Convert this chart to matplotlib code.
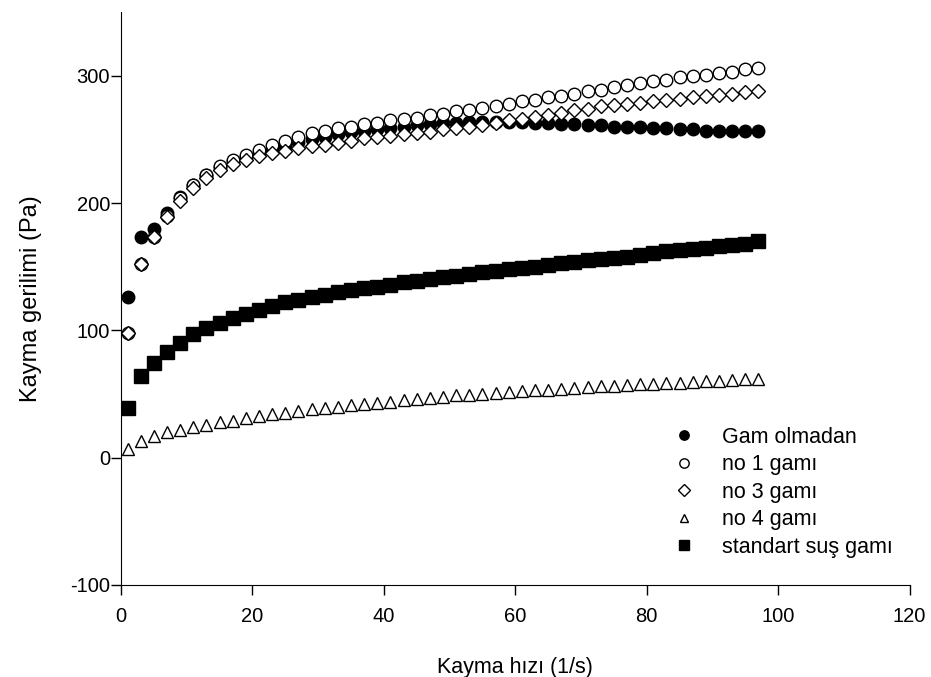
import matplotlib.pyplot as plt

plt.rcParams['font.family'] = ['Liberation Sans', 'DejaVu Sans']
plt.rcParams['axes.unicode_minus'] = False

# shear rate (1/s)
shear_rate = [1, 3, 5, 7, 9, 11, 13, 15, 17, 19, 21, 23, 25, 27, 29, 31, 33,
              35, 37, 39, 41, 43, 45, 47, 49, 51, 53, 55, 57, 59, 61, 63, 65,
              67, 69, 71, 73, 75, 77, 79, 81, 83, 85, 87, 89, 91, 93, 95, 97]

# shear stress (Pa)
gam_olmadan = [126, 173, 180, 192, 205, 214, 222, 228, 233, 236, 239, 242, 245,
               248, 250, 252, 254, 256, 257, 258, 259, 260, 261, 262, 263, 263,
               264, 264, 264, 264, 264, 263, 263, 262, 262, 261, 261, 260, 260,
               260, 259, 259, 258, 258, 257, 257, 257, 257, 257]
no1 = [98, 152, 173, 190, 204, 214, 222, 229, 234, 238, 242, 246, 249, 252,
       255, 257, 259, 260, 262, 263, 265, 266, 267, 269, 270, 272, 273, 275,
       276, 278, 280, 281, 283, 284, 286, 288, 289, 291, 293, 294, 296, 297,
       299, 300, 301, 302, 303, 305, 306]
no3 = [98, 152, 173, 189, 202, 212, 220, 226, 231, 234, 237, 239, 241, 243,
       245, 246, 247, 249, 251, 252, 253, 254, 255, 256, 258, 259, 260, 261,
       263, 265, 266, 268, 269, 271, 273, 274, 276, 277, 278, 279, 280, 281,
       282, 283, 284, 285, 286, 287, 288]
no4 = [7, 13, 17, 20, 22, 24, 26, 28, 29, 31, 33, 34, 35, 37, 38, 39, 40, 41,
       42, 43, 44, 45, 46, 47, 48, 49, 49.5, 50, 51, 51.5, 52, 53, 53.5, 54,
       55, 55.5, 56, 56.5, 57, 57.5, 58, 58.5, 59, 59.5, 60, 60.5, 61, 61.5, 62]
standart = [39, 64, 74, 83, 90, 97, 102, 106, 110, 113, 116, 119, 122, 124,
            126, 128, 130, 132, 133, 134, 136, 138, 139, 140, 142, 143, 144,
            146, 147, 148, 149, 150, 151, 153, 154, 155, 156, 157, 158, 159,
            161, 162, 163, 164, 165, 166, 167, 168, 170]

fig = plt.figure(figsize=(9.31, 6.77), dpi=100)
ax = fig.add_axes([0.13, 0.136, 0.847, 0.846])

ax.plot(shear_rate, gam_olmadan, 'o', ms=9, color='black', mec='black',
        label='Gam olmadan', zorder=2)
ax.plot(shear_rate, no1, 'o', ms=9, mfc='white', mec='black', mew=1,
        label='no 1 gamı', zorder=3)
ax.plot(shear_rate, no3, 'D', ms=7.5, mfc='white', mec='black', mew=1,
        label='no 3 gamı', zorder=4)
ax.plot(shear_rate, no4, '^', ms=8.5, mfc='white', mec='black', mew=1,
        label='no 4 gamı', zorder=5)
ax.plot(shear_rate, standart, 's', ms=9.5, color='black',
        label='standart suş gamı', zorder=6)

ax.set_xlim(0, 120)
ax.set_ylim(-100, 350)
ax.set_xticks([0, 20, 40, 60, 80, 100, 120])
ax.set_yticks([-100, 0, 100, 200, 300])

ax.spines['top'].set_visible(False)
ax.spines['right'].set_visible(False)
ax.tick_params(direction='out', length=7, width=1, labelsize=14.5)
ax.tick_params(axis='y', pad=1)
ax.tick_params(axis='x', pad=9)

ax.set_xlabel('Kayma hızı (1/s)', fontsize=15.5, labelpad=22)
ax.set_ylabel('Kayma gerilimi (Pa)', fontsize=17, labelpad=20)

ax.legend(loc='upper left', bbox_to_anchor=(0.688, 0.295), frameon=False,
          fontsize=15.5, handlelength=0.9, handletextpad=1.3,
          labelspacing=0.3, markerscale=0.75, borderpad=0)

fig.savefig('out.png', dpi=100)
